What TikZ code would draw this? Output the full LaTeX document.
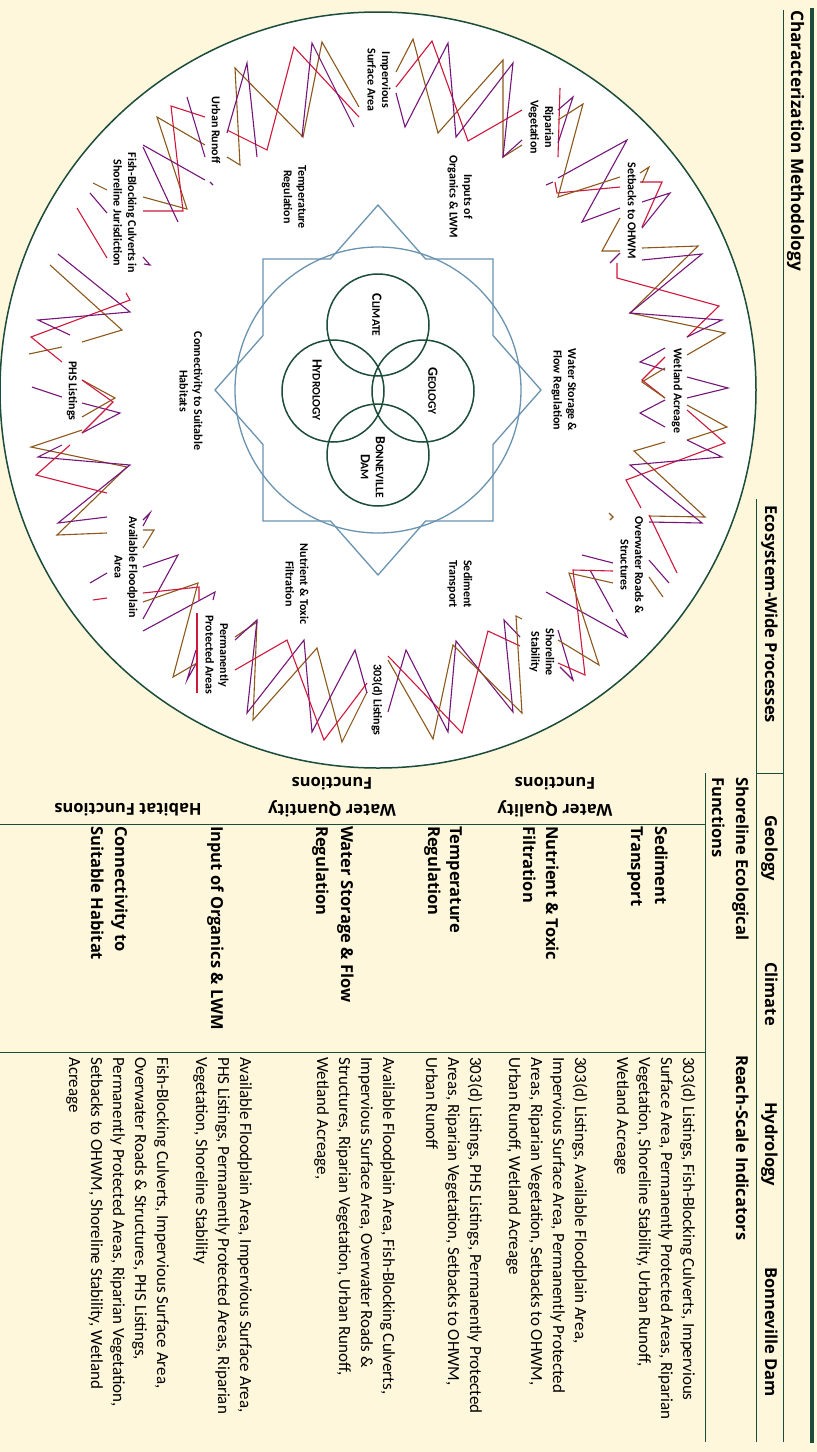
\documentclass[tikz,border=0pt]{standalone}
\usepackage{fontspec}
\setmainfont{Carlito}
\newfontfamily\headfont{Open Sans}
\usetikzlibrary{positioning}
\definecolor{creambg}{RGB}{254,247,220}
\definecolor{darkgreen}{RGB}{28,76,58}
\definecolor{steelblue}{RGB}{106,147,176}
\definecolor{zzbrown}{RGB}{140,88,28}
\definecolor{zzred}{RGB}{206,24,60}
\definecolor{zzpurple}{RGB}{118,22,120}
\newcommand{\fsc}[2]{#1{\fontsize{11.5}{11.5}\selectfont #2}}
\tikzset{
    % Table text styles
    headtext/.style={rotate=-90, anchor=base west, inner sep=0pt,
        font=\headfont\bfseries\fontsize{16.5}{16.5}\selectfont},
    indtext/.style={rotate=-90, anchor=base west, inner sep=0pt,
        font=\fontsize{17}{17}\selectfont},
    grouptext/.style={rotate=180, align=center, inner sep=0pt,
        font=\headfont\bfseries\fontsize{16.5}{27}\selectfont},
    % Wheel styles
    ringtext/.style={rotate=-90, align=center, inner sep=0pt,
        font=\bfseries\fontsize{12}{14.5}\selectfont},
    coretext/.style={rotate=-90, align=center, inner sep=0pt,
        font=\bfseries\fontsize{14}{15}\selectfont},
    rule/.style={draw=darkgreen, line width=1pt},
    driver/.style={draw=darkgreen, line width=1.5pt},
    star/.style={draw=steelblue, line width=1.3pt},
    zzb/.style={draw=zzbrown, line width=1.1pt},
    zzr/.style={draw=zzred, line width=1.1pt},
    zzp/.style={draw=zzpurple, line width=1.1pt}
}
\begin{document}
\begin{tikzpicture}[x=1pt, y=-1pt]

% Page background
\fill[creambg] (0,0) rectangle (817,1452);
\useasboundingbox (0,0) rectangle (817,1452);

% Table rules
\fill[darkgreen] (809.5,8) rectangle (813.5,1443);
\draw[rule] (783,10) -- (783,1442);
\draw[rule] (756,499) -- (756,1442);
\draw[rule] (756,773) -- (783,773);
\draw[rule] (705,773) -- (705,1442);
\draw[rule] (0,824) -- (705,824);
\draw[rule] (0,1052) -- (705,1052);

% Wheel frame
\draw[darkgreen, line width=1.5pt, fill=white] (378,390) circle[radius=378pt];
\draw[star] (378,390) circle[radius=143pt];
\draw[star] (378,205) -- (425.6,259) -- (493,259) -- (493,335.5) -- (541,390)
    -- (493,444.5) -- (493,521) -- (425.6,521) -- (378,575) -- (330.4,521)
    -- (263,521) -- (263,444.5) -- (215,390) -- (263,335.5) -- (263,259)
    -- (330.4,259) -- cycle;

% Ecosystem-wide drivers
\draw[driver] (378,325) circle[radius=51pt];
\draw[driver] (423,391) circle[radius=51pt];
\draw[driver] (333,391) circle[radius=51pt];
\draw[driver] (378,455) circle[radius=51pt];
\node[coretext] (climate) at (377,315) {\fsc{C}{LIMATE}};
\node[coretext] (geology) at (433,391) {\fsc{G}{EOLOGY}};
\node[coretext] (hydrology) at (317,390) {\fsc{H}{YDROLOGY}};
\node[coretext] (bonneville) at (373,467) {\fsc{B}{ONNEVILLE}\\\fsc{D}{AM}};

% Shoreline functions (inner ring)
\node[ringtext] (fStorage) at (564,390) {Water Storage \&\\Flow Regulation};
\node[ringtext] (fSediment) at (460,584) {Sediment\\Transport};
\node[ringtext] (fNutrient) at (297,584) {Nutrient \& Toxic\\Filtration};
\node[ringtext] (fConnect) at (191,391) {Connectivity to Suitable\\Habitats};
\node[ringtext] (fTemp) at (294,197) {Temperature\\Regulation};
\node[ringtext] (fInputs) at (460,197) {Inputs of\\Organics \& LWM};

% Reach-scale indicators (outer ring)
\node[ringtext] (iSetbacks) at (632,211) {Setbacks to OHWM};
\node[ringtext] (iRiparian) at (541,127) {Riparian\\Vegetation};
\node[ringtext] (iImpervious) at (379,80) {Impervious\\Surface Area};
\node[ringtext] (iUrban) at (216,130) {Urban Runoff};
\node[ringtext] (iCulverts) at (125,213) {Fish-Blocking Culverts in\\Shoreline Jurisdiction};
\node[ringtext] (iPHS) at (72,391) {PHS Listings};
\node[ringtext] (iFloodplain) at (126,567) {Available Floodplain\\Area};
\node[ringtext] (iProtected) at (217,655) {Permanently\\Protected Areas};
\node[ringtext] (i303d) at (377,700) {303(d) Listings};
\node[ringtext] (iStability) at (542,652) {Shoreline\\Stability};
\node[ringtext] (iOverwater) at (632,565) {Overwater Roads \&\\Structures};
\node[ringtext] (iWetland) at (677,391) {Wetland Acreage};

% Zigzag links, Impervious
\draw[zzb] (359,107) -- (322,42) -- (303,137) -- (235,68) -- (240,165) -- (227,157);
\draw[zzr] (359,117) -- (294,47) -- (267,150) -- (227,130);
\draw[zzp] (354,127) -- (312,43) -- (302,137);
\draw[zzp] (257,157) -- (247,63) -- (227,133);
\draw[zzb] (396,72) -- (413,39) -- (438,133) -- (503,60) -- (503,157) -- (522,145);
\draw[zzr] (396,87) -- (432,41) -- (468,141) -- (522,110);
\draw[zzp] (396,93) -- (405,127) -- (448,43) -- (456,137) -- (513,63) -- (503,157) -- (522,140);

% Zigzag links, Riparian and Setbacks
\draw[zzr] (560,88) -- (558,157);
\draw[zzr] (555,182) -- (557,193) -- (620,187);
\draw[zzp] (558,110) -- (573,97) -- (558,143);
\draw[zzp] (546,185) -- (553,182);
\draw[zzp] (558,178) -- (627,140) -- (582,222) -- (620,208);
\draw[zzb] (558,120) -- (583,104) -- (558,197) -- (620,177);
\draw[zzb] (640,173) -- (649,167) -- (642,183);
\draw[zzb] (620,218) -- (602,251) -- (620,251);
\draw[zzb] (642,248) -- (698,246) -- (630,313) -- (725,333) -- (687,355);
\draw[zzr] (642,227) -- (662,182) -- (640,182);
\draw[zzr] (617,263) -- (617,278) -- (719,306) -- (687,337);
\draw[zzp] (642,202) -- (670,193) -- (642,228);
\draw[zzp] (610,263) -- (620,253);
\draw[zzp] (642,260) -- (702,254) -- (630,313) -- (722,320) -- (687,337);

% Zigzag links, Wetland and Overwater
\draw[zzp] (665,348) -- (640,362) -- (665,370);
\draw[zzp] (687,377) -- (728,388) -- (687,398);
\draw[zzr] (665,357) -- (642,380) -- (665,398);
\draw[zzb] (665,368) -- (642,382) -- (665,398);
\draw[zzb] (687,405) -- (727,427) -- (687,440);
\draw[zzb] (665,442) -- (634,451) -- (705,517) -- (649,516);
\draw[zzr] (687,410) -- (725,443) -- (626,480) -- (641,508);
\draw[zzr] (649,515) -- (677,573);
\draw[zzp] (665,400) -- (640,413) -- (665,427);
\draw[zzp] (687,440) -- (722,457) -- (630,465) -- (702,523) -- (649,522);
\draw[zzp] (649,560) -- (669,583);
\draw[zzb] (649,577) -- (663,597);
\draw[zzb] (609,513) -- (613,517) -- (610,520);

% Zigzag links, Shoreline Stability and 303(d)
\draw[zzp] (582,555) -- (613,563);
\draw[zzp] (590,570) -- (613,612);
\draw[zzp] (546,592) -- (627,637) -- (616,619);
\draw[zzp] (558,630) -- (573,680) -- (560,667);
\draw[zzr] (558,663) -- (585,675) -- (573,570) -- (613,571);
\draw[zzb] (558,640) -- (599,665) -- (569,573) -- (613,583);
\draw[zzr] (388,656) -- (462,733) -- (488,631) -- (520,646);
\draw[zzp] (388,712) -- (406,650) -- (448,732) -- (456,641) -- (513,712) -- (504,620) -- (520,637);
\draw[zzb] (388,660) -- (433,739) -- (453,645) -- (522,713) -- (516,616) -- (522,619);

% Zigzag links, Permanently Protected and Floodplain
\draw[zzb] (235,637) -- (257,622) -- (253,720) -- (317,648) -- (342,742) -- (367,692);
\draw[zzp] (235,640) -- (257,620) -- (247,713) -- (304,640) -- (312,732) -- (355,650) -- (367,693);
\draw[zzr] (235,670) -- (287,640) -- (324,740) -- (367,683);
\draw[zzp] (143,520) -- (150,513) -- (143,526);
\draw[zzp] (90,583) -- (107,573);
\draw[zzp] (143,567) -- (178,555) -- (143,619);
\draw[zzp] (143,631) -- (215,592) -- (213,600);
\draw[zzp] (196,650) -- (187,680) -- (197,662);
\draw[zzb] (143,530) -- (154,530) -- (143,548);
\draw[zzb] (143,602) -- (198,583) -- (173,677) -- (197,663);
\draw[zzr] (93,600) -- (107,598);
\draw[zzr] (143,593) -- (199,587) -- (199,600);
\draw[zzr] (197,613) -- (197,693);

% Zigzag links, PHS and Culverts
\draw[zzb] (82,430) -- (31,447) -- (127,467) -- (57,535) -- (107,533);
\draw[zzp] (62,445) -- (38,457) -- (130,465) -- (58,523) -- (107,517);
\draw[zzr] (70,445) -- (36,475) -- (107,493);
\draw[zzb] (82,380) -- (115,398) -- (82,417);
\draw[zzp] (32,387) -- (62,397);
\draw[zzp] (82,403) -- (120,413) -- (82,433);
\draw[zzr] (82,380) -- (113,402) -- (82,433);
\draw[zzb] (93,183) -- (107,190);
\draw[zzb] (50,265) -- (122,330) -- (82,342);
\draw[zzb] (29,354) -- (62,347);
\draw[zzr] (77,208) -- (107,258);
\draw[zzr] (126,293) -- (130,300) -- (31,337) -- (62,362);
\draw[zzp] (90,193) -- (107,213);
\draw[zzp] (58,254) -- (130,312) -- (38,320) -- (70,335);
\draw[zzp] (143,257) -- (150,265) -- (144,264);

% Zigzag links, Urban Runoff
\draw[zzb] (205,145) -- (157,117) -- (187,209) -- (143,197);
\draw[zzr] (205,117) -- (171,106) -- (183,211) -- (143,211);
\draw[zzp] (187,97) -- (205,157);
\draw[zzp] (143,147) -- (178,222);
\draw[zzp] (143,145) -- (205,180);
\draw[zzp] (210,182) -- (213,185);

% Table headings
\node[headtext, font=\headfont\bfseries\fontsize{17.2}{17.2}\selectfont] (title) at (791,10) {Characterization Methodology};
\node[headtext] (procHead) at (765,505) {Ecosystem-Wide Processes};
\node[headtext] (pGeology) at (765,815) {Geology};
\node[headtext] (pClimate) at (765,962) {Climate};
\node[headtext] (pHydrology) at (765,1102) {Hydrology};
\node[headtext] (pDam) at (765,1267) {Bonneville Dam};
\node[headtext] (funcHead) at (736,777) {Shoreline Ecological};
\node[headtext] (funcHead2) at (712,777) {Functions};
\node[headtext] (indHead) at (736,1055) {Reach-Scale Indicators};

% Function groups
\node[grouptext] (gQuality) at (555,797) {Water Quality\\Functions};
\node[grouptext] (gQuantity) at (332,797) {Water Quantity\\Functions};
\node[grouptext] (gHabitat) at (128,810) {Habitat Functions};

% Function names
\node[headtext] (tSediment) at (655,826) {Sediment};
\node[headtext] (tSediment2) at (631,826) {Transport};
\node[headtext] (tNutrient) at (546,826) {Nutrient \& Toxic};
\node[headtext] (tNutrient2) at (523,826) {Filtration};
\node[headtext] (tTemp) at (450,826) {Temperature};
\node[headtext] (tTemp2) at (428,826) {Regulation};
\node[headtext] (tStorage) at (341,826) {Water Storage \& Flow};
\node[headtext] (tStorage2) at (316,826) {Regulation};
\node[headtext] (tInputs) at (211,826) {Input of Organics \& LWM};
\node[headtext] (tConnect) at (115,826) {Connectivity to};
\node[headtext] (tConnect2) at (91,826) {Suitable Habitat};

% Indicator lists
\node[indtext] at (683,1057) {303(d) Listings, Fish-Blocking Culverts, Impervious};
\node[indtext] at (661,1057) {Surface Area, Permanently Protected Areas, Riparian};
\node[indtext] at (639,1057) {Vegetation, Shoreline Stability, Urban Runoff,};
\node[indtext] at (617,1057) {Wetland Acreage};
\node[indtext] at (575,1057) {303(d) Listings, Available Floodplain Area,};
\node[indtext] at (553,1057) {Impervious Surface Area, Permanently Protected};
\node[indtext] at (531,1057) {Areas, Riparian Vegetation, Setbacks to OHWM,};
\node[indtext] at (509,1057) {Urban Runoff, Wetland Acreage};
\node[indtext] at (470,1057) {303(d) Listings, PHS Listings, Permanently Protected};
\node[indtext] at (448,1057) {Areas, Riparian Vegetation, Setbacks to OHWM,};
\node[indtext] at (426,1057) {Urban Runoff};
\node[indtext] at (383,1057) {Available Floodplain Area, Fish-Blocking Culverts,};
\node[indtext] at (361,1057) {Impervious Surface Area, Overwater Roads \&};
\node[indtext] at (339,1057) {Structures, Riparian Vegetation, Urban Runoff,};
\node[indtext] at (317,1057) {Wetland Acreage,};
\node[indtext] at (240,1057) {Available Floodplain Area, Impervious Surface Area,};
\node[indtext] at (218,1057) {PHS Listings, Permanently Protected Areas, Riparian};
\node[indtext] at (196,1057) {Vegetation, Shoreline Stability};
\node[indtext] at (157,1057) {Fish-Blocking Culverts, Impervious Surface Area,};
\node[indtext] at (135,1057) {Overwater Roads \& Structures, PHS Listings,};
\node[indtext] at (113,1057) {Permanently Protected Areas, Riparian Vegetation,};
\node[indtext] at (91,1057) {Setbacks to OHWM, Shoreline Stability, Wetland};
\node[indtext] at (69,1057) {Acreage};

\end{tikzpicture}
\end{document}
